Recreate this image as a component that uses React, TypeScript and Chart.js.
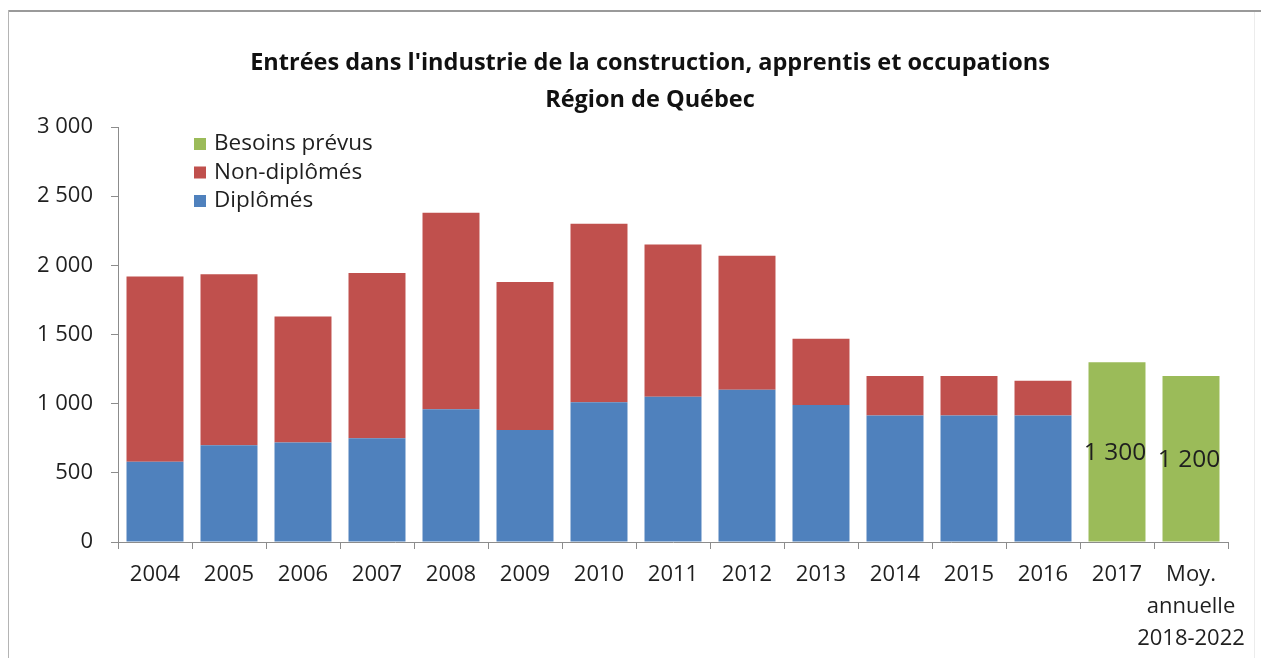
import React, { useEffect, useRef } from "react";
import { Chart, registerables } from "chart.js";

Chart.register(...registerables);

const categories: (string | string[])[] = [
  "2004", "2005", "2006", "2007", "2008", "2009", "2010", "2011", "2012", "2013", "2014", "2015", "2016", "2017",
  ["Moy.", "annuelle", "2018-2022"],
];
const diplomes: (number | null)[] = [580, 700, 720, 750, 960, 810, 1010, 1050, 1100, 990, 915, 915, 915, null, null];
const nonDiplomes: (number | null)[] = [1340, 1235, 910, 1195, 1420, 1070, 1290, 1100, 970, 480, 285, 285, 250, null, null];
const besoinsPrevus: (number | null)[] = [null, null, null, null, null, null, null, null, null, null, null, null, null, 1300, 1200];
const seriesLabels = ["Diplômés", "Non-diplômés", "Besoins prévus"];
const titleLines = ["Entrées dans l'industrie de la construction, apprentis et occupations", "Région de Québec"];
const yTicks = { min: 0, max: 3000, step: 500 };

const FONT = "'Open Sans', 'Noto Sans', sans-serif";
const TEXT = "#1f1f1f";
const AXIS = "#8c8c8c";

const fmt = (v: number) => String(Math.round(v)).replace(/\B(?=(\d{3})+(?!\d))/g, " ");

const overlayPlugin = {
  id: "overlay",
  afterDatasetsDraw(chart: any) {
    const ctx = chart.ctx;
    ctx.save();
    // data labels on the green bars
    const meta = chart.getDatasetMeta(2);
    ctx.font = `24.5px ${FONT}`;
    ctx.fillStyle = TEXT;
    ctx.textAlign = "center";
    ctx.textBaseline = "middle";
    meta.data.forEach((el: any, i: number) => {
      const v = chart.data.datasets[2].data[i];
      if (v == null) return;
      ctx.fillText(fmt(v), el.x - 2, (el.y + el.base) / 2 + 1);
    });
    // legend (reversed order), inside the plot area
    const ds = chart.data.datasets;
    ctx.textAlign = "left";
    ctx.font = `22.5px ${FONT}`;
    let y = 144;
    for (let k = ds.length - 1; k >= 0; k--) {
      ctx.fillStyle = ds[k].backgroundColor;
      ctx.fillRect(194, y - 6, 12, 12);
      ctx.fillStyle = TEXT;
      ctx.fillText(ds[k].label, 214, y);
      y += 28.5;
    }
    // title
    ctx.textAlign = "center";
    ctx.font = `bold 23.5px ${FONT}`;
    ctx.fillStyle = "#111";
    ctx.fillText(titleLines[0], 650, 63);
    ctx.fillText(titleLines[1], 650, 100);
    ctx.restore();
  },
};

export default function App() {
  const ref = useRef<HTMLCanvasElement>(null);
  useEffect(() => {
    if (!ref.current) return;
    const chart = new Chart(ref.current, {
      type: "bar",
      data: {
        labels: categories,
        datasets: [
          { label: seriesLabels[0], data: diplomes, backgroundColor: "#4F81BD", stack: "s" },
          { label: seriesLabels[1], data: nonDiplomes, backgroundColor: "#C0504D", stack: "s" },
          { label: seriesLabels[2], data: besoinsPrevus, backgroundColor: "#9BBB59", stack: "s" },
        ],
      },
      options: {
        animation: false,
        responsive: false,
        maintainAspectRatio: false,
        layout: { padding: { left: 0, right: 33, top: 127, bottom: 0 } },
        datasets: { bar: { barPercentage: 0.77, categoryPercentage: 1 } },
        plugins: { legend: { display: false }, title: { display: false }, tooltip: { enabled: false } },
        scales: {
          x: {
            stacked: true,
            afterFit: (s: any) => { s.height = 116; },
            grid: { display: true, drawOnChartArea: false, drawTicks: true, tickLength: 7, color: AXIS, offset: true },
            border: { display: true, color: AXIS, width: 1 },
            ticks: { color: TEXT, padding: 10, maxRotation: 0, autoSkip: false, font: { family: FONT, size: 22, lineHeight: 1.45 } },
          },
          y: {
            stacked: true,
            min: yTicks.min,
            max: yTicks.max,
            afterFit: (s: any) => { s.width = 118; },
            grid: { display: true, drawOnChartArea: false, drawTicks: true, tickLength: 7, color: AXIS },
            border: { display: true, color: AXIS, width: 1 },
            ticks: { stepSize: yTicks.step, color: TEXT, padding: 18, font: { family: FONT, size: 22 }, callback: (v: any) => fmt(Number(v)) },
          },
        },
      },
      plugins: [overlayPlugin],
    });
    return () => chart.destroy();
  }, []);
  return (
    <div style={{ position: "absolute", left: 0, top: 0, width: 1261, height: 658, background: "#fff", overflow: "hidden" }}>
      <div style={{ position: "absolute", left: 8, top: 10, width: 1253, height: 2, background: "#9a9a9a" }} />
      <div style={{ position: "absolute", left: 8, top: 10, width: 1, height: 648, background: "#b4b4b4" }} />
      <div style={{ position: "absolute", left: 1254, top: 12, width: 1, height: 646, background: "#ececec" }} />
      <canvas ref={ref} width={1261} height={658} style={{ position: "absolute", left: 0, top: 0, width: 1261, height: 658 }} />
    </div>
  );
}
